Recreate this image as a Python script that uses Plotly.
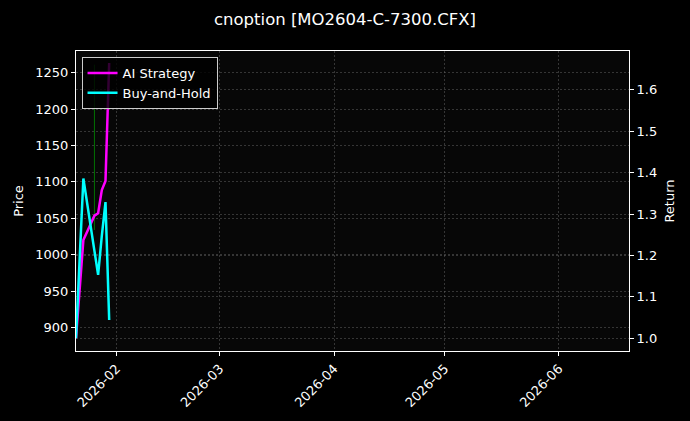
import plotly.graph_objects as go

# dates of the backtest (trading days)
dates = ["2026-01-21", "2026-01-23", "2026-01-26", "2026-01-27",
         "2026-01-28", "2026-01-29", "2026-01-30"]

# cumulative returns
ai_strategy = [1.0, 1.237, 1.296, 1.302, 1.358, 1.380, 1.665]
buy_and_hold = [1.0, 1.386, 1.211, 1.153, 1.247, 1.329, 1.044]

# price high/low of the signal bar
signal_date = ["2026-01-26", "2026-01-26"]
signal_price = [1034, 1261]

title = "cnoption [MO2604-C-7300.CFX]"
font = "DejaVu Sans"

fig = go.Figure()

fig.add_trace(go.Scatter(x=signal_date, y=signal_price, mode="lines",
                         line=dict(color="rgba(0,150,0,0.75)", width=1),
                         showlegend=False, hoverinfo="skip", yaxis="y"))

fig.add_trace(go.Scatter(x=dates, y=ai_strategy, mode="lines", name="AI Strategy",
                         line=dict(color="#ff00ff", width=2.5), yaxis="y2"))
fig.add_trace(go.Scatter(x=dates, y=buy_and_hold, mode="lines", name="Buy-and-Hold",
                         line=dict(color="#00ffff", width=2.5), yaxis="y2"))

axis_common = dict(
    showline=True, linecolor="white", linewidth=1,
    ticks="outside", ticklen=4, tickcolor="white",
    tickfont=dict(color="white", size=13, family=font),
    showgrid=True, gridcolor="rgba(110,110,110,0.45)", griddash="2px,2px", gridwidth=0.5,
    zeroline=False,
)

fig.update_layout(
    width=690, height=421,
    paper_bgcolor="black", plot_bgcolor="#070707",
    margin=dict(l=76, r=61, t=51, b=70, autoexpand=False),
    font=dict(family=font, color="white", size=13),
    title=dict(text=title, x=0.5, xanchor="center", y=0.955, yanchor="middle",
               font=dict(size=16.5, color="white", family=font)),
    xaxis=dict(axis_common, type="date", range=["2026-01-21", "2026-06-20"],
               tickformat="%Y-%m", dtick="M1", tick0="2026-02-01", tickangle=-45,
               mirror=True),
    yaxis=dict(axis_common, range=[867.7, 1279.8], dtick=50,
               title=dict(text="Price", font=dict(size=13, color="white"), standoff=8),
               mirror=True),
    yaxis2=dict(axis_common, overlaying="y", side="right", range=[0.969, 1.694],
                dtick=0.1, tickformat=".1f",
                title=dict(text="Return", font=dict(size=13, color="white"), standoff=8)),
    legend=dict(x=0.01, y=0.98, xanchor="left", yanchor="top",
                bgcolor="rgba(0,0,0,0.8)", bordercolor="#cccccc", borderwidth=1,
                font=dict(size=13, color="white", family=font)),
    showlegend=True,
)

fig.write_html("out.html", config={"displayModeBar": False},
               post_script="document.body.style.margin='0';document.body.style.background='black';")
